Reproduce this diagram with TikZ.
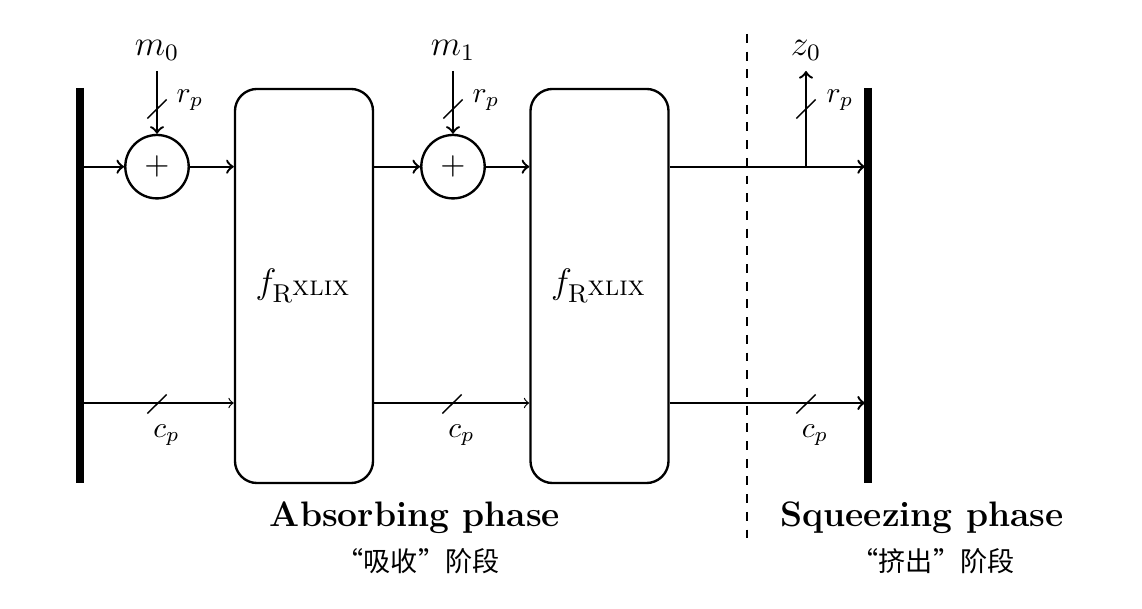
\documentclass[tikz,border=0pt]{standalone}
\usepackage{fontspec}
\newfontfamily\cjk{Noto Sans CJK SC}
\newcommand{\xlixlabel}{$f_{\mathrm{R}^{\mbox{\fontsize{9.5}{11}\selectfont\scshape xlix}}}$}
\begin{document}
\begin{tikzpicture}[x=0.339pt,y=-0.339pt,
  adder/.style={circle,draw,line width=0.8pt,minimum size=21.5pt,inner sep=0pt},
  fbox/.style={draw,line width=0.8pt,rounded corners=7.5pt,minimum width=46.8pt,minimum height=133.6pt,inner sep=0pt},
  bar/.style={line width=2.4pt},
  flow/.style={->,line width=0.8pt},
  thinflow/.style={->,line width=0.4pt},
  slash/.style={line width=0.5pt},
  lbl/.style={inner sep=0pt,font=\normalsize},
  phase/.style={inner sep=0pt,font=\large\bfseries},
  cn/.style={inner sep=0pt,font=\fontsize{9.2}{11}\cjk},
]
\useasboundingbox (0,0) rectangle (1142,609);
% bars
\coordinate (Lt) at (80,88); \coordinate (Lb) at (80,483);
\coordinate (Rt) at (868,88); \coordinate (Rb) at (868,483);
\draw[bar] (Lt) -- (Lb);
\draw[bar] (Rt) -- (Rb);
\coordinate (Ltop) at (80,166.7); \coordinate (Lbot) at (80,403);
\coordinate (Rtop) at (865,166.7); \coordinate (Rbot) at (865,403);
% adders and permutations
\node[adder] (a1) at (157,166.7) {\fontsize{10.5}{12}\selectfont$+$};
\node[adder] (a2) at (453,166.7) {\fontsize{10.5}{12}\selectfont$+$};
\node[fbox] (f1) at (304,286) {\fontsize{12.5}{15}\selectfont\xlixlabel};
\node[fbox] (f2) at (599.5,286) {\fontsize{12.5}{15}\selectfont\xlixlabel};
% inputs / output
\node[anchor=south] (m0) at (157,71) {\large $m_0$};
\node[anchor=south] (m1) at (453,71) {\large $m_1$};
\node[anchor=south] (z0) at (806,71) {\large $z_0$};
\coordinate (br) at (806,166.7);
% top flow
\draw[flow] (Ltop) -- (a1);
\draw[flow] (a1) -- (f1.west |- a1);
\draw[flow] (f1.east |- a1) -- (a2);
\draw[flow] (a2) -- (f2.west |- a2);
\draw[flow] (f2.east |- a2) -- (Rtop);
\draw[flow] (m0) -- (a1);
\draw[flow] (m1) -- (a2);
\draw[flow] (br) -- (z0);
% bottom flow
\draw[thinflow] (Lbot) -- (f1.west |- Lbot);
\draw[thinflow] (f1.east |- Lbot) -- (f2.west |- Lbot);
\draw[flow] (f2.east |- Lbot) -- (Rbot);
% slashes
\foreach \p in {(157,109),(453,109),(806,109),(157,404),(452,404),(806,404)}{
  \draw[slash] \p ++(-9.7,9.5) -- ++(19.4,-19);
}
\node[lbl] (r1) at (190,100) {$r_p$};
\node[lbl] (r2) at (486,100) {$r_p$};
\node[lbl] (r3) at (840,100) {$r_p$};
\node[lbl] (c1) at (166.5,435) {$c_p$};
\node[lbl] (c2) at (461.5,435) {$c_p$};
\node[lbl] (c3) at (815,435) {$c_p$};
% divider
\coordinate (dT) at (747,34); \coordinate (dB) at (747,542);
\draw[dashed,line width=0.8pt] (dT) -- (dB);
% phase labels
\node[phase] (abs) at (415,518) {Absorbing phase};
\node[cn] (abscn) at (418,561.5) {“吸收”阶段};
\node[phase] (sq) at (922,518) {Squeezing phase};
\node[cn] (sqcn) at (933,561.5) {“挤出”阶段};
\end{tikzpicture}
\end{document}
